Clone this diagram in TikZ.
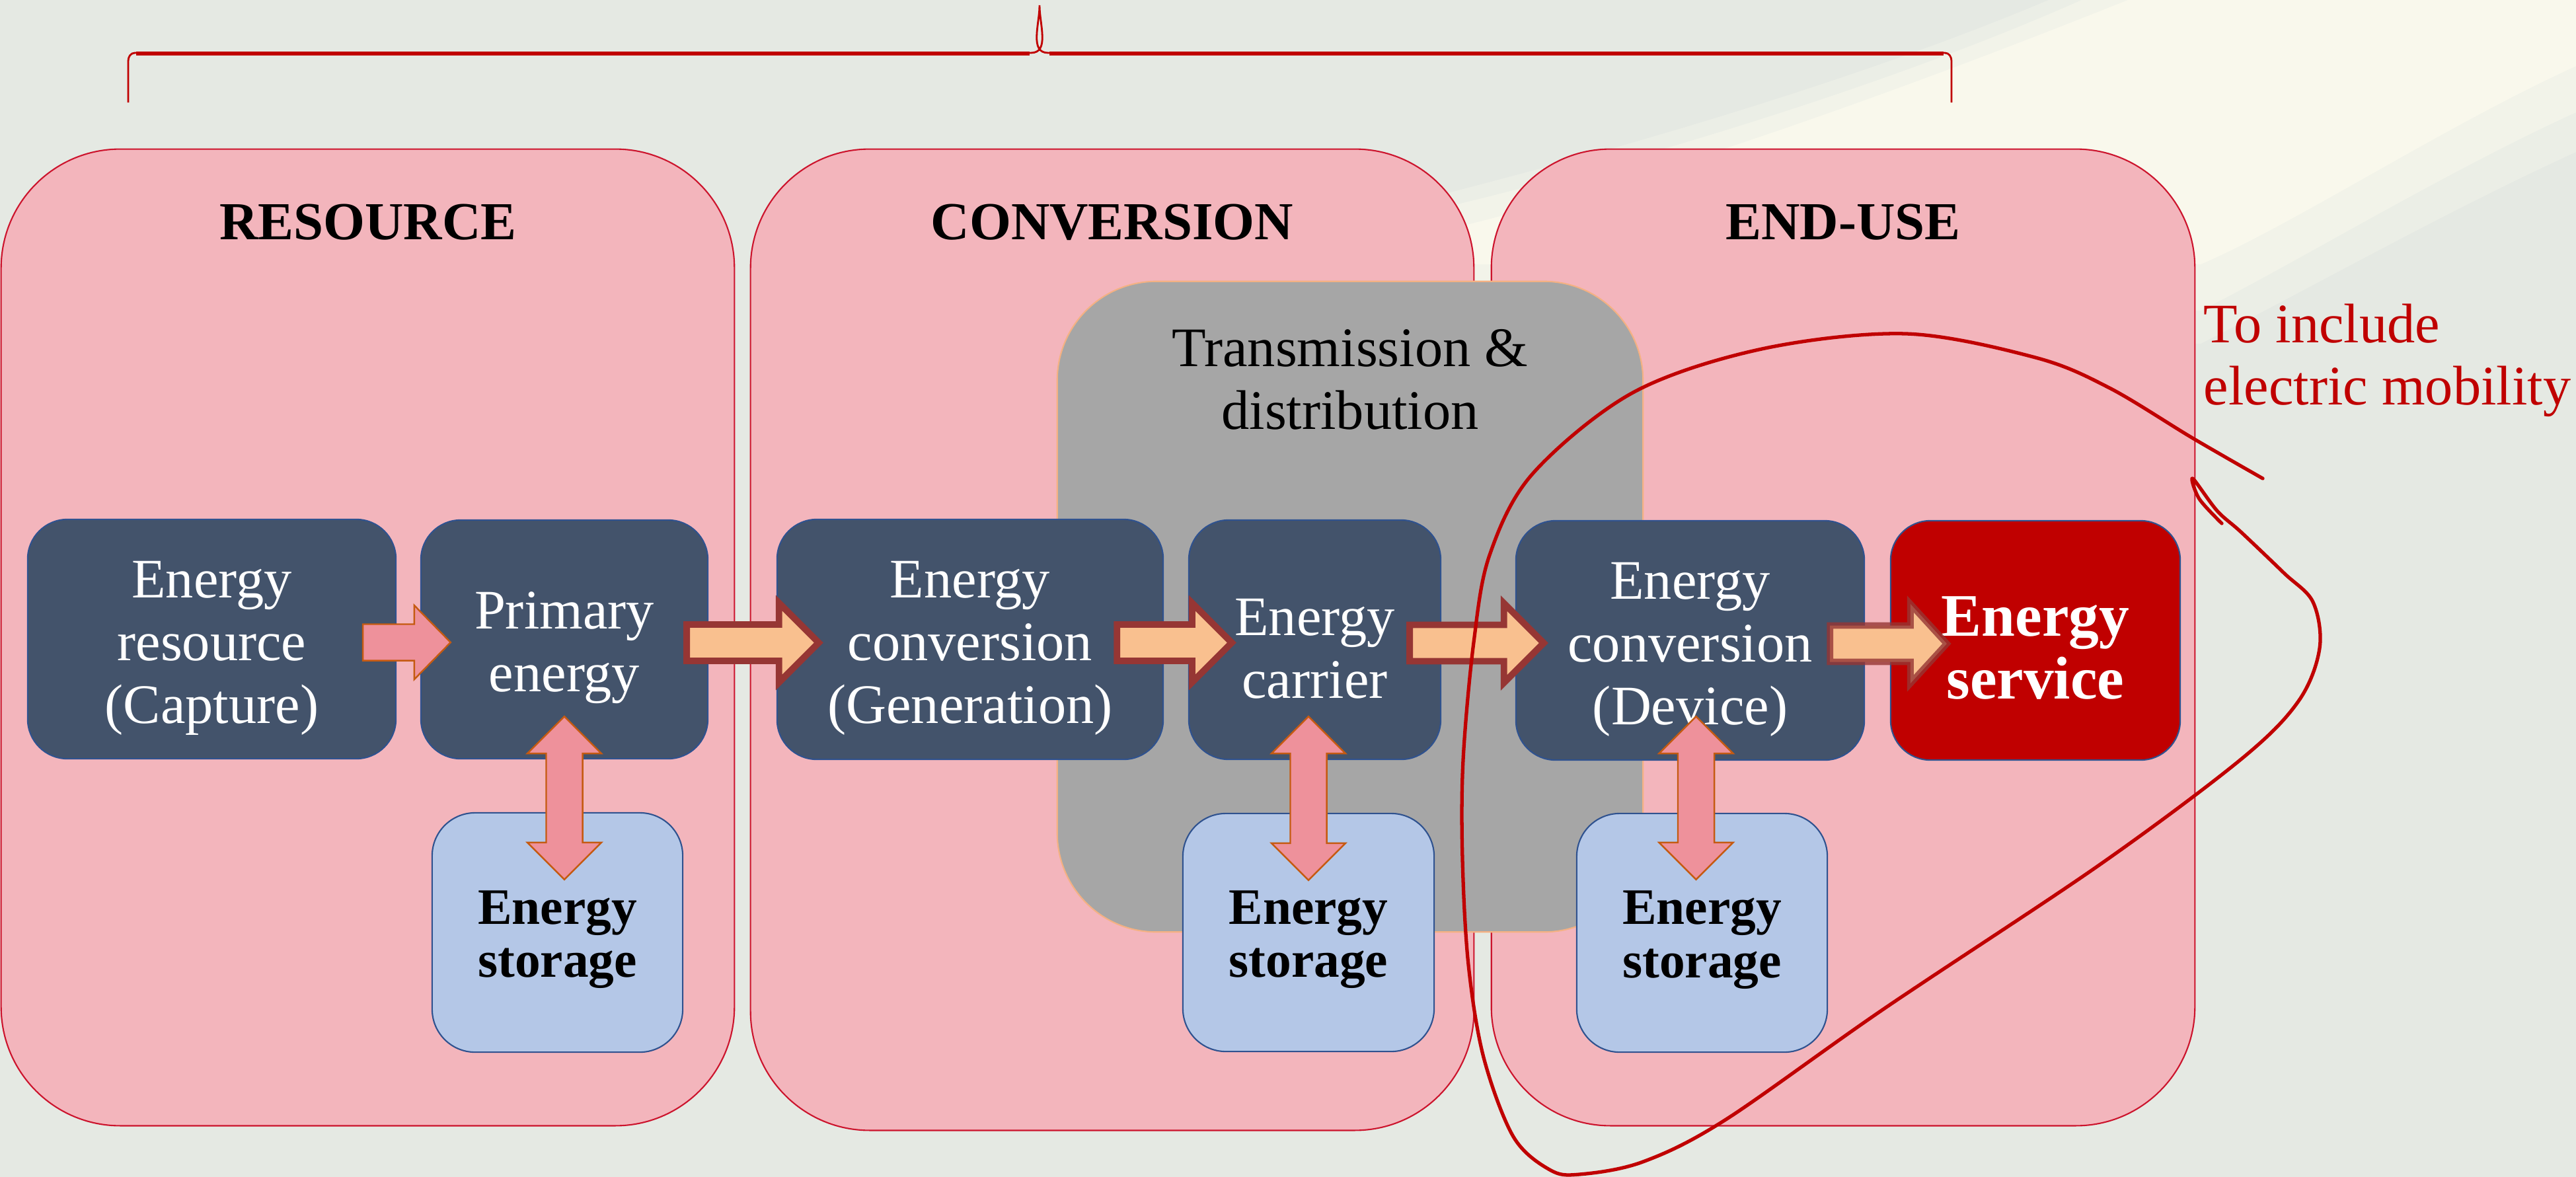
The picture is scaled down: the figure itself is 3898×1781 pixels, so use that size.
\documentclass[tikz,border=0pt]{standalone}
\usepackage{fontspec}
\setmainfont{Liberation Serif}
\usetikzlibrary{calc}
\definecolor{pinkbox}{RGB}{243,181,188}
\definecolor{pinkedge}{RGB}{204,20,45}
\definecolor{darkfill}{RGB}{67,83,107}
\definecolor{blueedge}{RGB}{47,82,143}
\definecolor{storagefill}{RGB}{180,199,231}
\definecolor{grayfill}{RGB}{166,166,166}
\definecolor{grayedge}{RGB}{244,177,131}
\definecolor{servicered}{RGB}{192,0,0}
\definecolor{peach}{RGB}{249,192,143}
\definecolor{arrowedge}{RGB}{150,54,52}
\definecolor{smallpink}{RGB}{238,145,155}
\definecolor{smalledge}{RGB}{197,90,17}
\definecolor{bgcol}{RGB}{229,233,227}
\definecolor{creamcol}{RGB}{252,251,238}
\newcommand{\dstrut}{\rule{0pt}{0.82cm}}
\newcommand{\sstrut}{\rule{0pt}{0.72cm}}
\newcommand{\blockarrow}[6]{%
  \draw[#1] let \p1=(#2), \p2=(#3) in
    (\x1,{\y1+#4}) -- ({\x2-#6},{\y1+#4}) -- ({\x2-#6},{\y1+#5}) -- (\x2,\y1)
    -- ({\x2-#6},{\y1-#5}) -- ({\x2-#6},{\y1-#4}) -- (\x1,{\y1-#4}) -- cycle;}
\newcommand{\linkarrow}[2]{%
  \draw[link] let \p1=(#1), \p2=(#2) in
    (\x1,\y1) -- ({\x1+0.56cm},{\y1-0.56cm}) -- ({\x1+0.275cm},{\y1-0.56cm})
    -- ({\x1+0.275cm},{\y2+0.56cm}) -- ({\x1+0.56cm},{\y2+0.56cm}) -- (\x1,\y2)
    -- ({\x1-0.56cm},{\y2+0.56cm}) -- ({\x1-0.275cm},{\y2+0.56cm})
    -- ({\x1-0.275cm},{\y1-0.56cm}) -- ({\x1-0.56cm},{\y1-0.56cm}) -- cycle;}
\begin{document}
\begin{tikzpicture}[x=0.01cm,y=-0.01cm,
  pinkpanel/.style={draw=pinkedge, line width=0.6pt, fill=pinkbox, rounded corners=1.8cm, inner sep=0pt},
  paneltitle/.style={font=\bfseries\fontsize{23pt}{27pt}\selectfont, inner sep=0pt, anchor=base},
  darkstep/.style={draw=blueedge, line width=0.6pt, fill=darkfill, rounded corners=0.6cm, text=white,
    align=center, font=\fontsize{24pt}{27pt}\selectfont, inner sep=0pt},
  servicebox/.style={darkstep, fill=servicered, font=\bfseries\fontsize{26pt}{27pt}\selectfont},
  storebox/.style={draw=blueedge, line width=0.6pt, fill=storagefill, rounded corners=0.65cm,
    align=center, font=\bfseries\fontsize{22pt}{23pt}\selectfont, inner sep=0pt},
  tdbox/.style={draw=grayedge, line width=0.6pt, fill=grayfill, rounded corners=1.5cm, inner sep=0pt},
  flow/.style={fill=peach, draw=arrowedge, line width=2.8pt, line join=miter},
  flowsoft/.style={flow, draw opacity=0.8},
  link/.style={fill=smallpink, draw=smalledge, line width=0.7pt, line join=miter},
  bracepath/.style={draw=servicered, line width=0.8pt},
  lasso/.style={draw=servicered, line width=1.5pt, line cap=round, line join=round}
]
\useasboundingbox (0,0) rectangle (3898,1781);
\fill[bgcol] (0,0) rectangle (3898,1781);
% light blurred shape in the background
\fill[creamcol, opacity=0.3] (3100,0) -- (3898,0) -- (3898,230)
  .. controls (3700,320) and (3470,450) .. (3330,520) -- (2160,520) -- (2120,310)
  .. controls (2480,220) and (2840,110) .. (3100,0) -- cycle;
\fill[creamcol, opacity=0.45] (3150,0) -- (3898,0) -- (3898,170)
  .. controls (3700,260) and (3470,400) .. (3330,470) -- (2180,470) -- (2160,320)
  .. controls (2500,240) and (2880,120) .. (3150,0) -- cycle;
\fill[creamcol, opacity=0.7] (3220,0) -- (3898,0) -- (3898,100)
  .. controls (3700,190) and (3470,340) .. (3330,400) -- (2220,400) -- (2220,340)
  .. controls (2540,260) and (2920,120) .. (3220,0) -- cycle;

% brace
\coordinate (brL) at (194,155);
\coordinate (brR) at (2953,155);
\coordinate (brT) at (1573,8);
\draw[bracepath] (brL) -- (194,92) to[out=90,in=180] (204,80) -- (1560,80)
  to[out=0,in=-90] (brT) to[out=-90,in=180] (1586,80) -- (2943,80)
  to[out=0,in=90] (2953,92) -- (brR);
\draw[draw=servicered, line width=1.8pt] (206,81) -- (1558,81) (1588,81) -- (2941,81);

% panels
\node[pinkpanel, minimum width=11.09cm, minimum height=14.77cm] (R) at (556.5,964.5) {};
\node[pinkpanel, minimum width=10.94cm, minimum height=14.84cm] (Cv) at (1683,968) {};
\node[pinkpanel, minimum width=10.64cm, minimum height=14.77cm] (U) at (2789,964.5) {};
\node[paneltitle] (tR) at (557,362) {RESOURCE};
\node[paneltitle] (tC) at (1683,362) {CONVERSION};
\node[paneltitle] (tU) at (2789,362) {END-USE};

% transmission & distribution
\node[tdbox, minimum width=8.86cm, minimum height=9.84cm] (T) at (2043,918) {};
\node[align=center, inner sep=0pt, font=\fontsize{24pt}{27pt}\selectfont] (tT) at (2043,574)
  {Transmission \&\\distribution};

% storage boxes
\node[storebox, minimum width=3.79cm, minimum height=3.62cm] (S1) at (843.5,1411) {\sstrut Energy\\storage};
\node[storebox, minimum width=3.80cm, minimum height=3.60cm] (S2) at (1980,1411) {\sstrut Energy\\storage};
\node[storebox, minimum width=3.79cm, minimum height=3.61cm] (S3) at (2575.5,1411.5) {\sstrut Energy\\storage};

% chain boxes
\node[darkstep, minimum width=5.57cm, minimum height=3.62cm] (A) at (320.5,967) {\dstrut Energy\\resource\\(Capture)};
\node[darkstep, minimum width=4.34cm, minimum height=3.61cm] (B) at (854,967.5) {\dstrut Primary\\energy};
\node[darkstep, minimum width=5.84cm, minimum height=3.63cm] (C) at (1468,967.5) {\dstrut Energy\\conversion\\(Generation)};
\node[darkstep, minimum width=3.81cm, minimum height=3.62cm] (D) at (1989.5,968) {\dstrut Energy\\carrier};
\node[darkstep, minimum width=5.27cm, minimum height=3.62cm] (E) at (2557.5,969) {\dstrut Energy\\conversion\\(Device)};
\node[servicebox, minimum width=4.38cm, minimum height=3.62cm] (F) at (3080,969) {\dstrut Energy\\service};

% flow arrows
\coordinate (ab0) at ([xshift=-0.51cm,yshift=-0.05cm]A.east);
\coordinate (ab1) at ([xshift=0.46cm]B.west);
\blockarrow{link}{ab0}{ab1}{0.275cm}{0.56cm}{0.55cm}
\coordinate (bc0) at ([xshift=-0.33cm,yshift=-0.05cm]B.east);
\coordinate (bc1) at ([xshift=0.64cm]C.west);
\blockarrow{flow}{bc0}{bc1}{0.275cm}{0.6cm}{0.6cm}
\coordinate (cd0) at ([xshift=-0.71cm,yshift=-0.05cm]C.east);
\coordinate (cd1) at ([xshift=0.66cm]D.west);
\blockarrow{flow}{cd0}{cd1}{0.275cm}{0.6cm}{0.6cm}
\coordinate (de0) at ([xshift=-0.48cm,yshift=-0.05cm]D.east);
\coordinate (de1) at ([xshift=0.43cm]E.west);
\blockarrow{flow}{de0}{de1}{0.275cm}{0.6cm}{0.6cm}
\coordinate (ef0) at ([xshift=-0.53cm,yshift=-0.05cm]E.east);
\coordinate (ef1) at ([xshift=0.86cm]F.west);
\blockarrow{flowsoft}{ef0}{ef1}{0.275cm}{0.6cm}{0.55cm}

% storage links
\coordinate (l1t) at ([yshift=0.65cm]B.south);
\coordinate (l1b) at ([yshift=-1.02cm]S1.north);
\linkarrow{l1t}{l1b}
\coordinate (l2t) at ($(S2.north |- D.south)+(0,0.66cm)$);
\coordinate (l2b) at ([yshift=-1.02cm]S2.north);
\linkarrow{l2t}{l2b}
\coordinate (l3m) at ($(E.south)!0.5!(S3.north)$);
\coordinate (l3t) at ($(l3m |- E.south)+(0,0.67cm)$);
\coordinate (l3b) at ([yshift=-1.01cm]S3.north);
\linkarrow{l3t}{l3b}

% lasso
\draw[lasso] plot[smooth, tension=0.55] coordinates {
  (3424,724) (3318,663) (3192,587) (3080,541) (2884,505) (2666,528) (2471,594)
  (2319,717) (2254,840) (2230,972) (2214,1150) (2213,1300) (2222,1460) (2245,1600)
  (2290,1720) (2345,1770) (2390,1777) (2486,1758) (2610,1695) (2850,1527)
  (3175,1310) (3391,1149) (3478,1061) (3510,981) (3500,911) (3456,867)
  (3391,805) (3355,773) (3318,724) (3328,755) (3362,792)};

% note
\node[anchor=west, align=left, inner sep=0pt, text=servicered,
  font=\fontsize{24pt}{26.7pt}\selectfont] (N) at (3334,545) {To include\\electric mobility};
\end{tikzpicture}
\end{document}
